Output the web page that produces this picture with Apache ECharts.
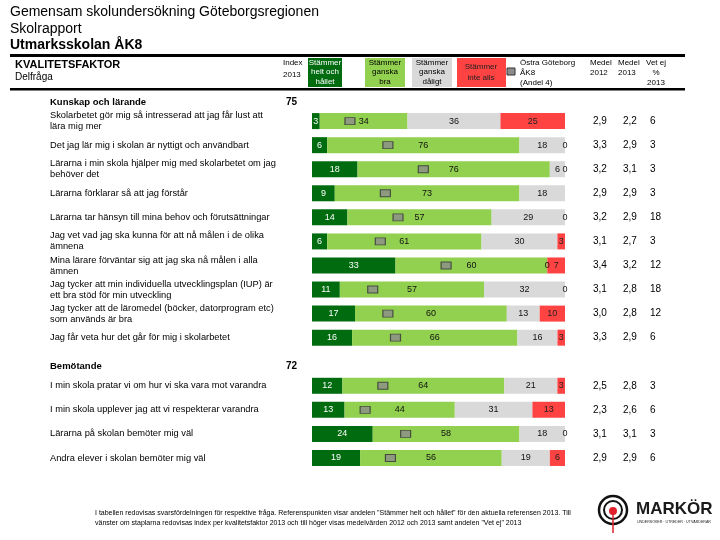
<!DOCTYPE html>
<html>
<head>
<meta charset="utf-8">
<script src="https://cdn.jsdelivr.net/npm/echarts@6/dist/echarts.min.js"></script>
<style>
  html, body { margin: 0; padding: 0; background: #fff; }
  #chart { width: 720px; height: 540px; }
</style>
</head>
<body>
<div id="chart"></div>
<script>
// rader: rubrik (kvalitetsfaktor) följt av delfrågor
const categories = [
    'Kunskap och lärande',
    'Skolarbetet gör mig så intresserad att jag får lust att\nlära mig mer',
    'Det jag lär mig i skolan är nyttigt och användbart',
    'Lärarna i min skola hjälper mig med skolarbetet om jag\nbehöver det',
    'Lärarna förklarar så att jag förstår',
    'Lärarna tar hänsyn till mina behov och förutsättningar',
    'Jag vet vad jag ska kunna för att nå målen i de olika\nämnena',
    'Mina lärare förväntar sig att jag ska nå målen i alla\nämnen',
    'Jag tycker att min individuella utvecklingsplan (IUP) är\nett bra stöd för min utveckling',
    'Jag tycker att de läromedel (böcker, datorprogram etc)\nsom används är bra',
    'Jag får veta hur det går för mig i skolarbetet',
    'Bemötande',
    'I min skola pratar vi om hur vi ska vara mot varandra',
    'I min skola upplever jag att vi respekterar varandra',
    'Lärarna på skolan bemöter mig väl',
    'Andra elever i skolan bemöter mig väl'
];
const indexValues = ['75', '', '', '', '', '', '', '', '', '', '', '72', '', '', '', ''];

// svarsfördelning i procent (null = rubrikrad / inget värde)
const heltOchHallet = [null, 3, 6, 18, 9, 14, 6, 33, 11, 17, 16, null, 12, 13, 24, 19];
const ganskaBra = [null, 34, 76, 76, 73, 57, 61, 60, 57, 60, 66, null, 64, 44, 58, 56];
const ganskaDaligt = [null, 36, 18, 6, 18, 29, 30, 0, 32, 13, 16, null, 21, 31, 18, 19];
const inteAlls = [null, 25, 0, 0, null, 0, 3, 7, 0, 10, 3, null, 3, 13, 0, 6];

// referenspunkt Östra Göteborg ÅK8 (andel 4)
const ostraGoteborg = [null, 15, 30, 44, 29, 34, 27, 53, 24, 30, 33, null, 28, 21, 37, 31];

const medel2012 = ['', '2,9', '3,3', '3,2', '2,9', '3,2', '3,1', '3,4', '3,1', '3,0', '3,3', '', '2,5', '2,3', '3,1', '2,9'];
const medel2013 = ['', '2,2', '2,9', '3,1', '2,9', '2,9', '2,7', '3,2', '2,8', '2,8', '2,9', '', '2,8', '2,6', '3,1', '2,9'];
const vetEj = ['', '6', '3', '3', '3', '18', '3', '12', '18', '12', '6', '', '3', '6', '3', '6'];

const FONT = '"Liberation Sans", Arial, sans-serif';
const groups = [heltOchHallet, ganskaBra, ganskaDaligt, inteAlls];
const headerRows = [0, 11];

// normalisera varje rad till 100 så att staplarna blir lika långa
const rowSum = categories.map((c, i) =>
    groups.reduce((s, g) => s + (g[i] == null ? 0 : g[i]), 0));
const norm = arr => arr.map((v, i) => (v == null ? null : v * 100 / rowSum[i]));

const chart = echarts.init(document.getElementById('chart'));

function barSeries(name, raw, color, labelColor) {
    return {
        name: name,
        type: 'bar',
        stack: 'total',
        barWidth: 16,
        yAxisIndex: 0,
        itemStyle: { color: color },
        label: {
            show: true,
            position: 'inside',
            color: labelColor,
            fontFamily: FONT,
            fontSize: 9,
            formatter: p => (raw[p.dataIndex] == null ? '' : String(raw[p.dataIndex]))
        },
        data: norm(raw)
    };
}

const option = {
    animation: false,
    textStyle: { fontFamily: FONT },
    grid: { left: 312, top: 85, width: 253, height: 385 },
    xAxis: { type: 'value', min: 0, max: 100, show: false },
    yAxis: [
        {
            type: 'category',
            inverse: true,
            data: categories,
            axisLine: { show: false },
            axisTick: { show: false },
            splitLine: { show: false },
            axisLabel: {
                align: 'left',
                margin: 262,
                fontSize: 9.3,
                lineHeight: 11,
                color: '#000',
                fontFamily: FONT,
                formatter: (v, i) => (headerRows.includes(i) ? '{h|' + v + '}' : v),
                rich: { h: { fontWeight: 'bold', fontSize: 9.5, fontFamily: FONT, color: '#000', padding: [10, 0, 0, 0] } }
            }
        },
        {
            type: 'category',
            inverse: true,
            position: 'left',
            data: categories,
            axisLine: { show: false },
            axisTick: { show: false },
            axisLabel: {
                align: 'right',
                margin: 15,
                color: '#000',
                fontFamily: FONT,
                formatter: (v, i) => (indexValues[i] ? '{i|' + indexValues[i] + '}' : ''),
                rich: { i: { fontWeight: 'bold', fontSize: 10, fontFamily: FONT, color: '#000', padding: [10, 0, 0, 0] } }
            }
        },
        {
            type: 'category',
            inverse: true,
            position: 'right',
            data: categories,
            axisLine: { show: false },
            axisTick: { show: false },
            axisLabel: {
                align: 'left',
                margin: 28,
                fontSize: 10,
                color: '#000',
                fontFamily: FONT,
                formatter: (v, i) => '{a|' + medel2012[i] + '}{b|' + medel2013[i] + '}{c|' + vetEj[i] + '}',
                rich: {
                    a: { width: 30, fontSize: 10, fontFamily: FONT, color: '#000' },
                    b: { width: 27, fontSize: 10, fontFamily: FONT, color: '#000' },
                    c: { fontSize: 10, fontFamily: FONT, color: '#000' }
                }
            }
        }
    ],
    series: [
        barSeries('Stämmer helt och hållet', heltOchHallet, '#006b0f', '#fff'),
        barSeries('Stämmer ganska bra', ganskaBra, '#92d050', '#111'),
        barSeries('Stämmer ganska dåligt', ganskaDaligt, '#d9d9d9', '#111'),
        barSeries('Stämmer inte alls', inteAlls, '#ff4343', '#222'),
        {
            name: 'Östra Göteborg ÅK8',
            type: 'scatter',
            yAxisIndex: 0,
            symbol: 'rect',
            symbolSize: [10, 7],
            z: 5,
            itemStyle: { color: '#8c8c8c', borderColor: '#333', borderWidth: 1 },
            data: ostraGoteborg
                .map((v, i) => (v == null ? null : [v, i]))
                .filter(d => d !== null)
        }
    ],
    graphic: [
        // rubriker
        { type: 'text', left: 10, top: 5, style: { text: 'Gemensam skolundersökning Göteborgsregionen', font: '14px ' + FONT, fill: '#000' } },
        { type: 'text', left: 10, top: 22, style: { text: 'Skolrapport', font: '14px ' + FONT, fill: '#000' } },
        { type: 'text', left: 10, top: 38, style: { text: 'Utmarksskolan ÅK8', font: 'bold 14px ' + FONT, fill: '#000' } },
        { type: 'rect', shape: { x: 10, y: 54, width: 675, height: 3 }, style: { fill: '#000' } },
        { type: 'rect', shape: { x: 10, y: 88, width: 675, height: 2.5 }, style: { fill: '#000' } },
        { type: 'text', left: 15, top: 59, style: { text: 'KVALITETSFAKTOR', font: 'bold 11px ' + FONT, fill: '#000' } },
        { type: 'text', left: 15, top: 72, style: { text: 'Delfråga', font: '10px ' + FONT, fill: '#000' } },
        { type: 'text', left: 283, top: 57, style: { text: 'Index\n2013', font: '8px ' + FONT, lineHeight: 12, fill: '#000' } },
        // förklaringar
        { type: 'rect', shape: { x: 308, y: 58, width: 34, height: 29 }, style: { fill: '#006b0f' } },
        { type: 'text', x: 325, y: 72, style: { text: 'Stämmer\nhelt och\nhållet', font: '8px ' + FONT, lineHeight: 9.5, fill: '#fff', align: 'center', verticalAlign: 'middle' } },
        { type: 'rect', shape: { x: 365, y: 58, width: 40, height: 29 }, style: { fill: '#92d050' } },
        { type: 'text', x: 385, y: 72, style: { text: 'Stämmer\nganska\nbra', font: '8px ' + FONT, lineHeight: 9.5, fill: '#000', align: 'center', verticalAlign: 'middle' } },
        { type: 'rect', shape: { x: 412, y: 58, width: 40, height: 29 }, style: { fill: '#d9d9d9' } },
        { type: 'text', x: 432, y: 72, style: { text: 'Stämmer\nganska\ndåligt', font: '8px ' + FONT, lineHeight: 9.5, fill: '#000', align: 'center', verticalAlign: 'middle' } },
        { type: 'rect', shape: { x: 457, y: 58, width: 49, height: 29 }, style: { fill: '#ff4343' } },
        { type: 'text', x: 481, y: 72, style: { text: 'Stämmer\ninte alls', font: '8px ' + FONT, lineHeight: 11, fill: '#222', align: 'center', verticalAlign: 'middle' } },
        { type: 'rect', shape: { x: 507, y: 68, width: 8, height: 7 }, style: { fill: '#8c8c8c', stroke: '#333', lineWidth: 1 } },
        { type: 'text', left: 520, top: 58, style: { text: 'Östra Göteborg\nÅK8\n(Andel 4)', font: '8px ' + FONT, lineHeight: 10, fill: '#000' } },
        { type: 'text', left: 590, top: 58, style: { text: 'Medel\n2012', font: '8px ' + FONT, lineHeight: 10, fill: '#000' } },
        { type: 'text', left: 618, top: 58, style: { text: 'Medel\n2013', font: '8px ' + FONT, lineHeight: 10, fill: '#000' } },
        { type: 'text', x: 656, y: 58, style: { text: 'Vet ej\n%\n2013', font: '8px ' + FONT, lineHeight: 10, fill: '#000', align: 'center' } },
        // fotnot
        { type: 'text', left: 95, top: 508, style: { text: 'I tabellen redovisas svarsfördelningen för respektive fråga. Referenspunkten visar andelen "Stämmer helt och hållet" för den aktuella referensen 2013. Till\nvänster om staplarna redovisas index per kvalitetsfaktor 2013 och till höger visas medelvärden 2012 och 2013 samt andelen "Vet ej" 2013', font: '7px ' + FONT, lineHeight: 10, fill: '#000' } },
        // logotyp
        { type: 'circle', shape: { cx: 613, cy: 510, r: 14 }, style: { fill: 'none', stroke: '#111', lineWidth: 2.5 } },
        { type: 'circle', shape: { cx: 613, cy: 510, r: 9 }, style: { fill: 'none', stroke: '#111', lineWidth: 2 } },
        { type: 'line', shape: { x1: 613, y1: 512, x2: 613, y2: 533 }, style: { stroke: '#e0202a', lineWidth: 1.5 } },
        { type: 'circle', shape: { cx: 613, cy: 511, r: 4 }, style: { fill: '#e0202a' } },
        { type: 'text', left: 636, top: 501, style: { text: 'MARKÖR', font: 'bold 17px ' + FONT, fill: '#1a1a1a' } },
        { type: 'text', left: 637, top: 520, style: { text: 'UNDERSÖKER · UTREDER · UTVÄRDERAR', font: '3.6px ' + FONT, fill: '#1a1a1a' } }
    ]
};

chart.setOption(option);
</script>
</body>
</html>
